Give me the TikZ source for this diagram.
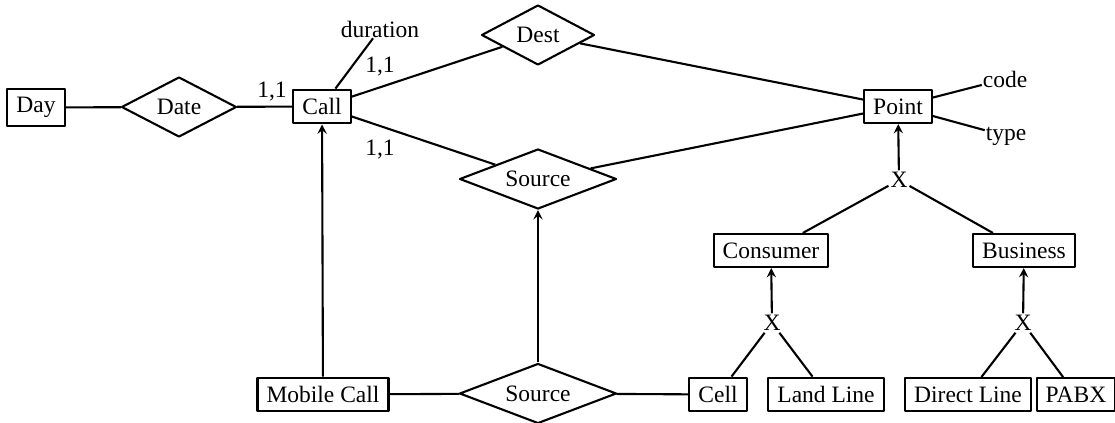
\documentclass[tikz,border=0pt]{standalone}
\usepackage{fontspec}
\setmainfont{Liberation Serif}
\usetikzlibrary{shapes.geometric}
\begin{document}
\begin{tikzpicture}[x=.5pt,y=-.5pt,font=\fontsize{11.75}{14}\selectfont,line join=round,line width=1.05pt,>=stealth,
	ent/.style={draw,rectangle,inner xsep=4.5pt,inner ysep=4.3pt},
	rel/.style={draw,diamond,shape aspect=2,inner sep=0pt,minimum height=30pt},
	attr/.style={inner sep=0pt},
	isa/.style={inner sep=.5pt}]
	\useasboundingbox (0,0) rectangle (1115,423);
	% entities
	\node[ent] (day) at (36,107.5) {Day};
	\node[ent] (call) at (322,106.5) {Call};
	\node[ent] (point) at (898,106.5) {Point};
	\node[ent] (cons) at (771,250.5) {Consumer};
	\node[ent] (bus) at (1024,250.5) {Business};
	\node[ent] (mob) at (323,394.5) {Mobile Call};
	\foreach \n/\x/\t in {cell/718/Cell,land/826/Land Line,direct/968/Direct Line,pabx/1076/PABX}
		\node[ent] (\n) at (\x,394.5) {\t};
	% relationships
	\node[rel,minimum width=57.5pt] (date) at (179,107) {Date};
	\node[rel,minimum width=56.5pt] (dest) at (538,35) {Dest};
	\node[rel,minimum width=78.5pt] (src) at (538,179) {Source};
	\node[rel,minimum width=78.5pt] (msrc) at (538,393.5) {Source};
	% attributes
	\node[attr] (dur) at (380,29) {duration};
	\node[attr] (code) at (1005,79) {code};
	\node[attr] (type) at (1006,136) {type};
	% cardinalities
	\node (c1) at (272,92) {1,1};
	\node (c2) at (380,67) {1,1};
	\node (c3) at (380,150) {1,1};
	% specialisations
	\node[isa] (xpoint) at (899,180) {X};
	\node[isa] (xcons) at (772,323) {X};
	\node[isa] (xbus) at (1023,323) {X};
	\draw (day)--(date)--(call);
	\draw (call)--(dest)--(point);
	\draw (call)--(src)--(point);
	\draw (mob)--(msrc)--(cell);
	\draw (call)--(dur);
	\draw (code)--(point)--(type);
	\draw[->] (mob)--(call);
	\draw[->] (msrc)--(src);
	\draw[->] (xpoint)--(point);
	\draw (cons)--(xpoint)--(bus);
	\draw[->] (xcons)--(cons);
	\draw (cell)--(xcons)--(land);
	\draw[->] (xbus)--(bus);
	\draw (direct)--(xbus)--(pabx);
\end{tikzpicture}
\end{document}
